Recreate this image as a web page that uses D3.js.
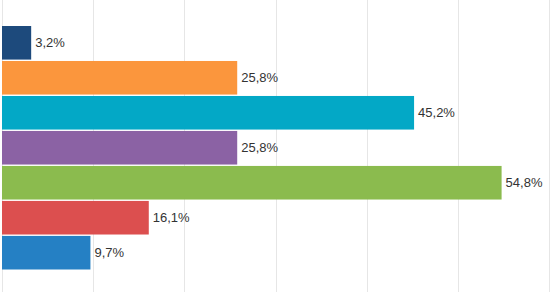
<!DOCTYPE html>
<html>
<head>
<meta charset="utf-8">
<script src="https://cdn.jsdelivr.net/npm/d3@7"></script>
<style>
  body { margin: 0; background: #fff; }
  svg { display: block; }
</style>
</head>
<body>
<div id="chart"></div>
<script>
// data
const categories = ["a", "b", "c", "d", "e", "f", "g"]
const values = [3.2, 25.8, 45.2, 25.8, 54.8, 16.1, 9.7]
const labels = ["3,2%", "25,8%", "45,2%", "25,8%", "54,8%", "16,1%", "9,7%"]
const colors = ["#1d4a7c", "#fb963d", "#03a8c6", "#8b62a4", "#8bbb4e", "#dc4f4f", "#2580c4"]
const gridTicks = [0, 10, 20, 30, 40, 50, 60]

const W = 551, H = 296

let svg = d3.select("#chart")
    .append("svg")
    .attr("width", W)
    .attr("height", H)

let xScale = d3.scaleLinear()
    .domain([0, 60])
    .range([2, 549])

let yScale = d3.scaleBand()
    .domain(categories)
    .range([26, 269.5])
    .paddingInner(0.04)

// vertical gridlines
svg.append("g")
    .selectAll("line")
    .data(gridTicks)
    .enter()
    .append("line")
    .attr("x1", d => Math.round(xScale(d)) + 0.5)
    .attr("x2", d => Math.round(xScale(d)) + 0.5)
    .attr("y1", 0)
    .attr("y2", 292)
    .style("stroke", "#e6e6e6")
    .style("stroke-width", 1)

// bars
svg.append("g")
    .selectAll("rect")
    .data(values)
    .enter()
    .append("rect")
    .attr("x", xScale(0))
    .attr("y", (d, i) => yScale(categories[i]))
    .attr("width", d => xScale(d) - xScale(0))
    .attr("height", yScale.bandwidth())
    .style("fill", (d, i) => colors[i])

// value labels
svg.append("g")
    .selectAll("text")
    .data(values)
    .enter()
    .append("text")
    .attr("x", d => xScale(d) + 4)
    .attr("y", (d, i) => yScale(categories[i]) + yScale.bandwidth() / 2)
    .attr("dy", "0.35em")
    .style("font-family", "'Liberation Sans', Arial, sans-serif")
    .style("font-size", "13px")
    .style("fill", "#333")
    .text((d, i) => labels[i])
</script>
</body>
</html>
